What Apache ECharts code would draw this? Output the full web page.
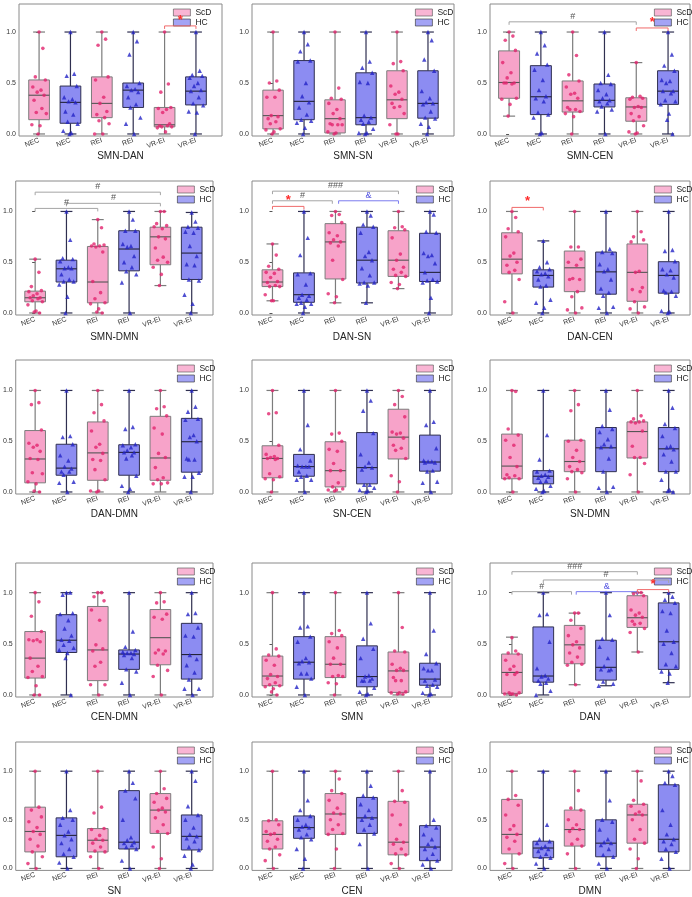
<!DOCTYPE html>
<html>
<head>
<meta charset="utf-8">
<title>ScD vs HC box plots</title>
<script src="https://cdn.jsdelivr.net/npm/echarts@6.0.0/dist/echarts.min.js"></script>
<style>
html, body { margin: 0; padding: 0; background: #fff; }
#chart { width: 692px; height: 897px; }
</style>
</head>
<body>
<div id="chart"></div>
<script>
// categories: pink = ScD, blue = HC
const CATS = ['NEC', 'NEC', 'REI', 'REI', 'VR-EI', 'VR-EI']
const GROUPS = ['ScD', 'HC', 'ScD', 'HC', 'ScD', 'HC']
const Y_TICKS = [0, 0.5, 1]

// box stats per category: [min, q1, median, q3, max]
const boxSmnDan = [[0, 0.14, 0.38, 0.53, 1], [0, 0.105, 0.31, 0.47, 1], [0, 0.16, 0.30, 0.56, 1], [0, 0.26, 0.43, 0.50, 1], [0, 0.07, 0.09, 0.26, 1], [0, 0.285, 0.42, 0.56, 1]]
const ptsSmnDan = [
  [1, 0.84, 0.56, 0.53, 0.46, 0.43, 0.41, 0.38, 0.33, 0.25, 0.21, 0.2, 0.09, 0.08, 0],
  [1, 0.59, 0.57, 0.47, 0.36, 0.34, 0.32, 0.31, 0.22, 0.19, 0.12, 0.1, 0.03, 0.01, 0],
  [1, 0.93, 0.87, 0.56, 0.53, 0.36, 0.3, 0.22, 0.19, 0.16, 0.13, 0.1, 0, 0],
  [1, 0.91, 0.78, 0.5, 0.47, 0.44, 0.43, 0.41, 0.36, 0.29, 0.26, 0.16, 0.1, 0],
  [1, 0.49, 0.41, 0.26, 0.25, 0.24, 0.21, 0.1, 0.08, 0.08, 0.07, 0.07, 0.06, 0.02],
  [1, 0.62, 0.58, 0.57, 0.55, 0.5, 0.47, 0.43, 0.42, 0.36, 0.3, 0.28, 0.22, 0.21, 0]
]
// significance brackets: [from, to, y, text, kind]
const sigSmnDan = [[4, 5, 1.06, '*', 'red']]

const boxSmnSn = [[0, 0.05, 0.18, 0.43, 1], [0, 0.14, 0.32, 0.72, 1], [0, 0.01, 0.15, 0.335, 1], [0, 0.09, 0.16, 0.60, 1], [0, 0.15, 0.335, 0.62, 1], [0, 0.155, 0.30, 0.62, 1]]
const ptsSmnSn = [
  [1, 0.52, 0.5, 0.43, 0.36, 0.36, 0.18, 0.17, 0.15, 0.12, 0.1, 0.05, 0.04, 0.02, 0],
  [1, 0.88, 0.81, 0.72, 0.71, 0.5, 0.37, 0.31, 0.26, 0.19, 0.14, 0.13, 0.11, 0.06, 0],
  [1, 0.45, 0.35, 0.34, 0.3, 0.24, 0.2, 0.15, 0.1, 0.09, 0.09, 0.09, 0.02, 0.01, 0],
  [1, 0.71, 0.65, 0.6, 0.51, 0.5, 0.18, 0.16, 0.14, 0.12, 0.1, 0.05, 0.01, 0.01, 0],
  [1, 0.71, 0.69, 0.62, 0.47, 0.41, 0.39, 0.34, 0.3, 0.27, 0.26, 0.2, 0.09, 0, 0],
  [1, 0.92, 0.73, 0.62, 0.42, 0.35, 0.31, 0.3, 0.29, 0.22, 0.16, 0.15, 0.1, 0.07, 0]
]
const sigSmnSn = []

const boxSmnCen = [[0.175, 0.35, 0.505, 0.815, 1], [0, 0.19, 0.365, 0.67, 1], [0, 0.215, 0.325, 0.52, 1], [0, 0.265, 0.33, 0.49, 1], [0, 0.125, 0.265, 0.355, 0.70], [0, 0.29, 0.42, 0.62, 1]]
const ptsSmnCen = [
  [1, 0.96, 0.92, 0.82, 0.7, 0.6, 0.55, 0.5, 0.5, 0.49, 0.5, 0.35, 0.34, 0.29, 0.175],
  [1, 0.87, 0.79, 0.68, 0.63, 0.53, 0.43, 0.37, 0.35, 0.32, 0.21, 0.19, 0.16, 0.01, 0],
  [1, 0.77, 0.58, 0.52, 0.46, 0.4, 0.39, 0.35, 0.26, 0.24, 0.24, 0.22, 0.2, 0.17, 0],
  [1, 0.58, 0.5, 0.49, 0.43, 0.39, 0.35, 0.33, 0.32, 0.3, 0.27, 0.24, 0.22, 0],
  [0.7, 0.37, 0.36, 0.35, 0.34, 0.27, 0.26, 0.26, 0.2, 0.17, 0.13, 0.08, 0.02, 0.01, 0],
  [1, 0.78, 0.67, 0.62, 0.53, 0.52, 0.5, 0.42, 0.42, 0.4, 0.33, 0.32, 0.29, 0.2, 0.14, 0]
]
const sigSmnCen = [[0, 4, 1.10, '#', 'gray'], [4, 5, 1.04, '*', 'red']]

const boxSmnDmn = [[0, 0.11, 0.15, 0.215, 0.53], [0, 0.305, 0.435, 0.52, 1], [0, 0.1, 0.305, 0.655, 0.92], [0, 0.415, 0.63, 0.81, 1], [0.27, 0.475, 0.75, 0.845, 1], [0, 0.33, 0.59, 0.845, 0.99]]
const ptsSmnDmn = [
  [0.53, 0.4, 0.26, 0.22, 0.21, 0.19, 0.17, 0.15, 0.15, 0.14, 0.12, 0.11, 0.08, 0.02, 0.01, 0],
  [1, 0.72, 0.54, 0.53, 0.51, 0.45, 0.44, 0.44, 0.38, 0.33, 0.31, 0.31, 0.28, 0.16, 0],
  [0.92, 0.84, 0.68, 0.67, 0.66, 0.66, 0.65, 0.6, 0.31, 0.2, 0.14, 0.1, 0.09, 0.04, 0.01, 0],
  [1, 0.92, 0.81, 0.81, 0.68, 0.66, 0.65, 0.56, 0.5, 0.45, 0.41, 0.38, 0.3, 0],
  [1, 1, 0.88, 0.86, 0.85, 0.83, 0.75, 0.73, 0.64, 0.55, 0.52, 0.5, 0.45, 0.38, 0.27],
  [0.99, 0.9, 0.85, 0.84, 0.8, 0.79, 0.66, 0.56, 0.48, 0.47, 0.33, 0.32, 0.18, 0.09, 0]
]
const sigSmnDmn = [[0, 4, 1.19, '#', 'gray'], [1, 4, 1.08, '#', 'gray'], [0, 2, 1.03, '#', 'gray']]

const boxDanSn = [[0.12, 0.26, 0.305, 0.425, 0.68], [0, 0.105, 0.18, 0.395, 1], [0.1, 0.335, 0.70, 0.88, 1], [0.1, 0.295, 0.52, 0.845, 1], [0.24, 0.36, 0.52, 0.81, 1], [0, 0.31, 0.40, 0.785, 1]]
const ptsDanSn = [
  [0.68, 0.57, 0.46, 0.43, 0.4, 0.39, 0.35, 0.31, 0.3, 0.27, 0.26, 0.26, 0.18, 0.12, 0.12],
  [1, 0.74, 0.57, 0.39, 0.38, 0.28, 0.18, 0.17, 0.15, 0.13, 0.1, 0.09, 0.09, 0.06, 0],
  [1, 0.97, 0.96, 0.89, 0.79, 0.76, 0.72, 0.7, 0.69, 0.66, 0.52, 0.33, 0.19, 0.16, 0.1],
  [1, 0.96, 0.87, 0.85, 0.79, 0.6, 0.56, 0.52, 0.44, 0.37, 0.3, 0.3, 0.29, 0.27, 0.1],
  [1, 0.85, 0.84, 0.82, 0.74, 0.58, 0.52, 0.45, 0.43, 0.4, 0.37, 0.36, 0.3, 0.28, 0.24],
  [1, 0.97, 0.8, 0.79, 0.59, 0.57, 0.56, 0.49, 0.4, 0.33, 0.32, 0.31, 0.3, 0.15, 0]
]
const sigDanSn = [[0, 4, 1.20, '###', 'gray'], [0, 1.9, 1.105, '#', 'gray'], [2.1, 4, 1.105, '&', 'blue'], [0, 1, 1.05, '*', 'red']]

const boxDanCen = [[0, 0.385, 0.53, 0.79, 1], [0, 0.255, 0.37, 0.425, 0.71], [0, 0.21, 0.445, 0.61, 1], [0, 0.185, 0.405, 0.6, 1], [0, 0.115, 0.4, 0.68, 1], [0, 0.195, 0.37, 0.505, 1]]
const ptsDanCen = [
  [1, 0.94, 0.83, 0.8, 0.75, 0.59, 0.56, 0.5, 0.47, 0.42, 0.4, 0.33, 0.11, 0],
  [0.71, 0.5, 0.45, 0.43, 0.41, 0.39, 0.38, 0.36, 0.33, 0.27, 0.26, 0.13, 0.1, 0.05, 0],
  [1, 0.65, 0.65, 0.53, 0.5, 0.47, 0.34, 0.33, 0.33, 0.21, 0.16, 0.05, 0.03, 0],
  [1, 0.63, 0.6, 0.59, 0.48, 0.43, 0.41, 0.33, 0.24, 0.2, 0.17, 0.06, 0.05, 0],
  [1, 0.8, 0.75, 0.72, 0.7, 0.41, 0.4, 0.25, 0.23, 0.21, 0.11, 0.06, 0.04, 0],
  [1, 0.62, 0.61, 0.51, 0.43, 0.42, 0.38, 0.35, 0.22, 0.21, 0.2, 0.17, 0.02, 0.01, 0]
]
const sigDanCen = [[0, 1, 1.04, '*', 'red']]

const boxDanDmn = [[0, 0.09, 0.325, 0.605, 1], [0, 0.165, 0.235, 0.47, 1], [0, 0.115, 0.385, 0.69, 1], [0, 0.165, 0.39, 0.465, 1], [0, 0.115, 0.335, 0.745, 1], [0, 0.195, 0.495, 0.725, 1]]
const ptsDanDmn = [
  [1, 0.88, 0.86, 0.61, 0.48, 0.46, 0.44, 0.4, 0.33, 0.32, 0.19, 0.18, 0.1, 0.08, 0.01, 0],
  [1, 0.55, 0.54, 0.47, 0.36, 0.31, 0.25, 0.23, 0.2, 0.2, 0.17, 0.1, 0.09, 0],
  [1, 0.86, 0.78, 0.7, 0.6, 0.47, 0.44, 0.38, 0.32, 0.31, 0.22, 0.12, 0.01, 0.01, 0],
  [1, 0.64, 0.62, 0.47, 0.46, 0.44, 0.41, 0.39, 0.39, 0.36, 0.33, 0.16, 0.06, 0.03, 0],
  [1, 0.84, 0.82, 0.75, 0.63, 0.57, 0.38, 0.34, 0.24, 0.14, 0.12, 0.09, 0.08, 0.08],
  [1, 0.84, 0.79, 0.72, 0.71, 0.56, 0.54, 0.5, 0.33, 0.32, 0.32, 0.19, 0.15, 0.15, 0]
]
const sigDanDmn = []

const boxSnCen = [[0, 0.14, 0.33, 0.455, 1], [0, 0.155, 0.25, 0.37, 1], [0, 0.05, 0.21, 0.495, 1], [0, 0.08, 0.24, 0.585, 1], [0, 0.325, 0.54, 0.815, 1], [0, 0.205, 0.295, 0.56, 1]]
const ptsSnCen = [
  [1, 0.78, 0.77, 0.46, 0.37, 0.35, 0.34, 0.33, 0.33, 0.32, 0.18, 0.15, 0.13, 0.12, 0],
  [1, 0.66, 0.42, 0.31, 0.26, 0.25, 0.25, 0.25, 0.2, 0.16, 0.15, 0.12, 0.12, 0],
  [1, 0.58, 0.57, 0.5, 0.42, 0.4, 0.28, 0.21, 0.21, 0.09, 0.05, 0.03, 0.02, 0.02, 0.01],
  [1, 0.9, 0.8, 0.58, 0.37, 0.29, 0.25, 0.24, 0.22, 0.07, 0.07, 0.04, 0.02, 0.01, 0],
  [1, 0.94, 0.86, 0.74, 0.59, 0.58, 0.57, 0.53, 0.46, 0.43, 0.41, 0.33, 0.16, 0.1, 0],
  [1, 0.69, 0.66, 0.43, 0.31, 0.3, 0.3, 0.29, 0.29, 0.21, 0.2, 0.1, 0.09, 0]
]
const sigSnCen = []

const boxSnDmn = [[0, 0.13, 0.255, 0.57, 1], [0, 0.08, 0.155, 0.21, 1], [0, 0.2, 0.3, 0.51, 1], [0, 0.2, 0.435, 0.635, 1], [0, 0.335, 0.595, 0.69, 1], [0, 0.2, 0.425, 0.635, 1]]
const ptsSnDmn = [
  [1, 0.99, 0.62, 0.56, 0.51, 0.46, 0.34, 0.25, 0.17, 0.16, 0.14, 0.13, 0.13, 0],
  [1, 0.56, 0.32, 0.21, 0.2, 0.17, 0.16, 0.15, 0.14, 0.11, 0.1, 0.06, 0.03, 0.01, 0],
  [1, 0.86, 0.8, 0.51, 0.5, 0.41, 0.34, 0.3, 0.25, 0.22, 0.2, 0.19, 0.13, 0],
  [1, 0.81, 0.65, 0.62, 0.59, 0.52, 0.47, 0.45, 0.44, 0.33, 0.2, 0.05, 0.04, 0],
  [1, 0.75, 0.72, 0.7, 0.69, 0.69, 0.68, 0.6, 0.45, 0.34, 0.34, 0.28, 0.17, 0],
  [1, 0.83, 0.67, 0.63, 0.55, 0.45, 0.44, 0.42, 0.37, 0.3, 0.2, 0.2, 0.12, 0.02, 0.01, 0]
]
const sigSnDmn = []

const boxCenDmn = [[0, 0.165, 0.36, 0.62, 1], [0, 0.415, 0.535, 0.785, 1], [0, 0.14, 0.44, 0.865, 1], [0, 0.25, 0.40, 0.44, 1], [0, 0.295, 0.56, 0.835, 1], [0, 0.155, 0.395, 0.70, 1]]
const ptsCenDmn = [
  [1, 0.91, 0.77, 0.62, 0.54, 0.54, 0.53, 0.52, 0.36, 0.28, 0.23, 0.18, 0.17, 0.09, 0, 0],
  [1, 1, 0.98, 0.8, 0.79, 0.73, 0.65, 0.58, 0.54, 0.53, 0.49, 0.46, 0.44, 0.41, 0.36, 0],
  [1, 1, 0.96, 0.92, 0.83, 0.73, 0.49, 0.45, 0.43, 0.32, 0.28, 0.1, 0.1, 0],
  [1, 0.62, 0.47, 0.44, 0.42, 0.41, 0.41, 0.4, 0.39, 0.36, 0.25, 0.23, 0.12, 0],
  [1, 0.91, 0.9, 0.79, 0.76, 0.74, 0.44, 0.43, 0.41, 0.4, 0.29, 0.24, 0.18, 0],
  [1, 0.8, 0.79, 0.66, 0.58, 0.57, 0.39, 0.35, 0.29, 0.22, 0.15, 0.06, 0.06, 0]
]
const sigCenDmn = []

const boxSmn = [[0, 0.09, 0.185, 0.38, 1], [0, 0.155, 0.32, 0.57, 1], [0, 0.17, 0.30, 0.57, 1], [0, 0.08, 0.18, 0.48, 1], [0, 0.025, 0.235, 0.42, 1], [0, 0.095, 0.155, 0.31, 1]]
const ptsSmn = [
  [1, 0.45, 0.39, 0.38, 0.34, 0.29, 0.2, 0.18, 0.16, 0.12, 0.1, 0.09, 0.08, 0.06, 0.03, 0],
  [1, 0.67, 0.66, 0.57, 0.52, 0.36, 0.33, 0.32, 0.31, 0.21, 0.21, 0.16, 0.08, 0],
  [1, 0.63, 0.6, 0.58, 0.52, 0.46, 0.36, 0.3, 0.3, 0.19, 0.18, 0.18, 0.12, 0.11, 0],
  [1, 0.7, 0.55, 0.45, 0.36, 0.19, 0.18, 0.16, 0.14, 0.14, 0.14, 0.07, 0.03, 0.01, 0],
  [1, 0.66, 0.43, 0.42, 0.3, 0.26, 0.24, 0.24, 0.17, 0.14, 0.14, 0.03, 0.02, 0.02, 0.01, 0.01],
  [1, 0.63, 0.4, 0.31, 0.26, 0.24, 0.24, 0.15, 0.14, 0.1, 0.09, 0.08, 0.02, 0.01, 0]
]
const sigSmn = []

const boxDan = [[0, 0.015, 0.22, 0.40, 0.565], [0, 0.125, 0.185, 0.665, 1], [0.1, 0.305, 0.49, 0.68, 0.8], [0.09, 0.145, 0.27, 0.535, 1], [0.42, 0.66, 0.755, 0.97, 1], [0.12, 0.25, 0.52, 0.9, 1]]
const ptsDan = [
  [0.56, 0.43, 0.41, 0.4, 0.34, 0.28, 0.25, 0.22, 0.2, 0.2, 0.02, 0.02, 0.01, 0.01, 0.01, 0],
  [1, 0.79, 0.78, 0.52, 0.26, 0.19, 0.18, 0.16, 0.14, 0.12, 0.11, 0.04, 0],
  [0.8, 0.8, 0.73, 0.65, 0.58, 0.52, 0.49, 0.46, 0.41, 0.37, 0.32, 0.3, 0.29, 0.1],
  [1, 0.78, 0.55, 0.54, 0.47, 0.36, 0.28, 0.25, 0.25, 0.24, 0.13, 0.11, 0.09],
  [1, 1, 0.99, 0.97, 0.83, 0.8, 0.78, 0.76, 0.72, 0.7, 0.69, 0.65, 0.61, 0.42],
  [1, 0.96, 0.93, 0.9, 0.82, 0.8, 0.63, 0.52, 0.5, 0.41, 0.3, 0.28, 0.23, 0.21, 0.12]
]
const sigDan = [[0, 4, 1.205, '###', 'gray'], [1, 5, 1.124, '#', 'gray'], [0, 1.9, 1.01, '#', 'gray'], [2.05, 4, 1.01, '&', 'blue'], [4, 5, 1.03, '*', 'red']]

const boxSn = [[0, 0.17, 0.38, 0.63, 1], [0, 0.12, 0.34, 0.52, 1], [0, 0.17, 0.29, 0.41, 1], [0, 0.2, 0.27, 0.8, 1], [0, 0.36, 0.6, 0.77, 1], [0, 0.19, 0.33, 0.55, 1]]
const ptsSn = [
  [1, 0.63, 0.6, 0.53, 0.48, 0.42, 0.38, 0.35, 0.3, 0.23, 0.17, 0.12, 0.05, 0],
  [1, 0.6, 0.52, 0.5, 0.45, 0.38, 0.34, 0.3, 0.26, 0.2, 0.15, 0.12, 0.06, 0],
  [1, 0.63, 0.57, 0.41, 0.4, 0.34, 0.3, 0.29, 0.26, 0.22, 0.18, 0.17, 0.12, 0],
  [1, 0.88, 0.8, 0.72, 0.5, 0.32, 0.29, 0.27, 0.26, 0.24, 0.22, 0.2, 0.08, 0],
  [1, 0.82, 0.77, 0.72, 0.68, 0.62, 0.6, 0.58, 0.52, 0.45, 0.38, 0.36, 0.22, 0.1, 0],
  [1, 0.9, 0.64, 0.55, 0.5, 0.42, 0.35, 0.33, 0.31, 0.28, 0.22, 0.19, 0.13, 0.04, 0]
]
const sigSn = []

const boxCen = [[0, 0.2, 0.35, 0.49, 1], [0, 0.31, 0.42, 0.54, 1], [0, 0.35, 0.56, 0.77, 1], [0, 0.36, 0.52, 0.73, 1], [0, 0.14, 0.27, 0.69, 1], [0, 0.08, 0.22, 0.44, 1]]
const ptsCen = [
  [1, 0.5, 0.49, 0.45, 0.38, 0.36, 0.35, 0.3, 0.28, 0.22, 0.2, 0.14, 0.08, 0],
  [1, 0.7, 0.6, 0.54, 0.5, 0.45, 0.43, 0.42, 0.4, 0.35, 0.32, 0.3, 0.2, 0.1, 0],
  [1, 0.92, 0.8, 0.77, 0.7, 0.62, 0.57, 0.56, 0.5, 0.45, 0.4, 0.36, 0.35, 0.2, 0],
  [1, 0.85, 0.75, 0.73, 0.66, 0.6, 0.54, 0.52, 0.5, 0.45, 0.4, 0.36, 0.25, 0],
  [1, 0.8, 0.69, 0.68, 0.55, 0.45, 0.3, 0.27, 0.25, 0.2, 0.15, 0.14, 0.05, 0],
  [1, 0.5, 0.44, 0.42, 0.35, 0.3, 0.25, 0.22, 0.2, 0.15, 0.1, 0.08, 0.04, 0]
]
const sigCen = []

const boxDmn = [[0, 0.15, 0.35, 0.71, 1], [0, 0.11, 0.21, 0.28, 1], [0, 0.23, 0.4, 0.6, 1], [0, 0.12, 0.26, 0.5, 1], [0, 0.26, 0.55, 0.66, 1], [0, 0.17, 0.3, 0.86, 1]]
const ptsDmn = [
  [1, 0.75, 0.71, 0.65, 0.55, 0.44, 0.4, 0.35, 0.32, 0.28, 0.2, 0.15, 0.05, 0],
  [1, 0.45, 0.3, 0.28, 0.26, 0.23, 0.21, 0.2, 0.18, 0.15, 0.12, 0.11, 0.05, 0],
  [1, 0.8, 0.62, 0.6, 0.5, 0.45, 0.41, 0.4, 0.38, 0.3, 0.25, 0.23, 0.15, 0],
  [1, 0.7, 0.5, 0.48, 0.4, 0.3, 0.27, 0.26, 0.24, 0.2, 0.14, 0.12, 0.05, 0],
  [1, 0.9, 0.7, 0.66, 0.64, 0.58, 0.56, 0.55, 0.5, 0.4, 0.3, 0.26, 0.2, 0.1, 0],
  [1, 0.95, 0.88, 0.86, 0.6, 0.45, 0.35, 0.3, 0.28, 0.25, 0.2, 0.17, 0.1, 0]
]
const sigDmn = []

const PANELS = [
  ['SMN-DAN', boxSmnDan, ptsSmnDan, sigSmnDan],
  ['SMN-SN', boxSmnSn, ptsSmnSn, sigSmnSn],
  ['SMN-CEN', boxSmnCen, ptsSmnCen, sigSmnCen],
  ['SMN-DMN', boxSmnDmn, ptsSmnDmn, sigSmnDmn],
  ['DAN-SN', boxDanSn, ptsDanSn, sigDanSn],
  ['DAN-CEN', boxDanCen, ptsDanCen, sigDanCen],
  ['DAN-DMN', boxDanDmn, ptsDanDmn, sigDanDmn],
  ['SN-CEN', boxSnCen, ptsSnCen, sigSnCen],
  ['SN-DMN', boxSnDmn, ptsSnDmn, sigSnDmn],
  ['CEN-DMN', boxCenDmn, ptsCenDmn, sigCenDmn],
  ['SMN', boxSmn, ptsSmn, sigSmn],
  ['DAN', boxDan, ptsDan, sigDan],
  ['SN', boxSn, ptsSn, sigSn],
  ['CEN', boxCen, ptsCen, sigCen],
  ['DMN', boxDmn, ptsDmn, sigDmn]
]

// layout (pixels) for the 5 x 3 panels
const ROW_TOP = [4, 181, 360, 563, 742]
const ROW_H = [132, 134, 134, 134, 135]
const ROW_YMAX = [1.275, 1.30, 1.30, 1.29, 1.30]
const ROW_NAMEGAP = [15, 17, 15, 14, 15]
const FRAME_X_TOP = [[19, 222], [252, 454], [490, 690]]
const FRAME_X = [[13, 213], [252, 452], [490, 690]]
const XRANGE_TOP = [[-0.64, 5.83], [-0.68, 5.84], [-0.6, 5.69]]
const XRANGE = [[-0.62, 5.68], [-0.65, 5.70], [-0.70, 5.68]]
const LEG_OFF_TOP = [49, 39, 36]
const LEG_OFF = 36
// horizontal spread of the dots around each box centre
const JITTER = [0, 0.12, -0.12, 0.2, -0.2, 0.06, -0.06, 0.16, -0.16, 0.09, -0.09, 0.23, -0.23, 0.03, -0.03, 0.14]

const FONT = 'Liberation Sans, Arial, sans-serif'
const PINK = '#f7a3c9'
const BLUE = '#8c8cf2'
const SIG_STYLE = {
  red: { line: '#f06a6a', text: '#ff2a2a', size: 13 },
  gray: { line: '#a5a5a5', text: '#555555', size: 9 },
  blue: { line: '#7b7bef', text: '#4e4ee0', size: 9 }
}

function renderBox (params, api) {
  const i = api.value(0)
  const hc = GROUPS[i] === 'HC'
  const x = api.coord([i, 0])[0]
  const half = api.size([0.66, 0])[0] / 2
  const cap = api.size([0.38, 0])[0] / 2
  const y = k => api.coord([i, api.value(k)])[1]
  const yMin = y(1)
  const yQ1 = y(2)
  const yMed = y(3)
  const yQ3 = y(4)
  const yMax = y(5)
  const stroke = hc ? '#2f2f50' : '#7c7c7c'
  const ls = { stroke: stroke, lineWidth: 1.2 }
  return {
    type: 'group',
    children: [
      { type: 'line', shape: { x1: x, y1: yMax, x2: x, y2: yQ3 }, style: ls },
      { type: 'line', shape: { x1: x, y1: yQ1, x2: x, y2: yMin }, style: ls },
      { type: 'line', shape: { x1: x - cap, y1: yMax, x2: x + cap, y2: yMax }, style: ls },
      { type: 'line', shape: { x1: x - cap, y1: yMin, x2: x + cap, y2: yMin }, style: ls },
      { type: 'rect', shape: { x: x - half, y: yQ3, width: half * 2, height: yQ1 - yQ3 }, style: { fill: hc ? BLUE : PINK, stroke: stroke, lineWidth: 1 } },
      { type: 'line', shape: { x1: x - half, y1: yMed, x2: x + half, y2: yMed }, style: { stroke: hc ? '#222238' : '#555555', lineWidth: 1.1 } }
    ]
  }
}

function renderSig (s, api) {
  const st = SIG_STYLE[s[4]]
  const a = api.coord([s[0], s[2]])
  const b = api.coord([s[1], s[2]])
  const drop = 3
  return {
    type: 'group',
    children: [
      { type: 'polyline', shape: { points: [[a[0], a[1] + drop], a, b, [b[0], b[1] + drop]] }, style: { stroke: st.line, lineWidth: 1, fill: null } },
      {
        type: 'text',
        x: (a[0] + b[0]) / 2,
        y: a[1] - (s[3] === '*' ? -1 : 1),
        style: { text: s[3], fill: st.text, font: (s[3] === '*' ? 'bold ' : '') + st.size + 'px ' + FONT, textAlign: 'center', textVerticalAlign: 'bottom' }
      }
    ]
  }
}

const grid = []
const xAxis = []
const yAxis = []
const series = []
const legend = []

PANELS.forEach(([title, box, pts, sig], p) => {
  const r = Math.floor(p / 3)
  const c = p % 3
  const fx = r === 0 ? FRAME_X_TOP[c] : FRAME_X[c]
  const xr = r === 0 ? XRANGE_TOP[c] : XRANGE[c]
  grid.push({
    left: fx[0],
    top: ROW_TOP[r],
    width: fx[1] - fx[0],
    height: ROW_H[r],
    show: true,
    borderColor: '#8a8a8a',
    borderWidth: 1,
    backgroundColor: 'transparent'
  })
  xAxis.push({
    type: 'value',
    gridIndex: p,
    min: xr[0],
    max: xr[1],
    axisLine: { show: false },
    axisTick: { show: false },
    splitLine: { show: false },
    axisLabel: {
      customValues: [0, 1, 2, 3, 4, 5],
      formatter: v => CATS[Math.round(v)],
      rotate: 20,
      fontSize: 7,
      color: '#333',
      margin: 4,
      fontFamily: FONT
    },
    name: title,
    nameLocation: 'middle',
    nameGap: ROW_NAMEGAP[r],
    nameTextStyle: { fontSize: 10, color: '#222', fontFamily: FONT }
  })
  yAxis.push({
    type: 'value',
    gridIndex: p,
    min: -0.02,
    max: ROW_YMAX[r],
    axisLine: { show: false },
    splitLine: { show: false },
    axisTick: { show: true, customValues: Y_TICKS, length: 3, lineStyle: { color: '#555' } },
    axisLabel: {
      customValues: Y_TICKS,
      formatter: v => v.toFixed(1),
      fontSize: 7,
      color: '#333',
      margin: 3,
      fontFamily: FONT
    }
  })
  series.push({
    type: 'custom',
    xAxisIndex: p,
    yAxisIndex: p,
    renderItem: renderBox,
    data: box.map((b, i) => [i].concat(b)),
    silent: true,
    z: 2
  })
  const scd = []
  const hc = []
  pts.forEach((list, i) => {
    list.forEach((v, k) => {
      (GROUPS[i] === 'HC' ? hc : scd).push([i + JITTER[k % JITTER.length], v])
    })
  })
  series.push({
    name: 'ScD',
    type: 'scatter',
    xAxisIndex: p,
    yAxisIndex: p,
    symbol: 'circle',
    symbolSize: 3.6,
    itemStyle: { color: '#e2246e' },
    data: scd,
    clip: false,
    silent: true,
    z: 3
  })
  series.push({
    name: 'HC',
    type: 'scatter',
    xAxisIndex: p,
    yAxisIndex: p,
    symbol: 'triangle',
    symbolSize: 4.4,
    itemStyle: { color: '#2323c6' },
    data: hc,
    clip: false,
    silent: true,
    z: 3
  })
  if (sig.length) {
    series.push({
      type: 'custom',
      xAxisIndex: p,
      yAxisIndex: p,
      renderItem: (params, api) => renderSig(sig[params.dataIndex], api),
      data: sig.map(s => [s[0], s[1], s[2]]),
      silent: true,
      z: 4
    })
  }
  legend.push({
    left: fx[1] - (r === 0 ? LEG_OFF_TOP[c] : LEG_OFF),
    top: ROW_TOP[r] + 4,
    orient: 'vertical',
    padding: 0,
    itemGap: 1,
    itemWidth: 17,
    itemHeight: 7,
    selectedMode: false,
    textStyle: { fontSize: 8.5, color: '#222', fontFamily: FONT },
    data: [
      { name: 'ScD', icon: 'rect', itemStyle: { color: PINK, borderColor: '#555', borderWidth: 0.8 } },
      { name: 'HC', icon: 'rect', itemStyle: { color: BLUE, borderColor: '#333', borderWidth: 0.8 } }
    ]
  })
})

const myChart = echarts.init(document.getElementById('chart'))
myChart.setOption({
  animation: false,
  backgroundColor: '#fff',
  textStyle: { fontFamily: FONT },
  grid: grid,
  xAxis: xAxis,
  yAxis: yAxis,
  legend: legend,
  series: series
})
</script>
</body>
</html>
